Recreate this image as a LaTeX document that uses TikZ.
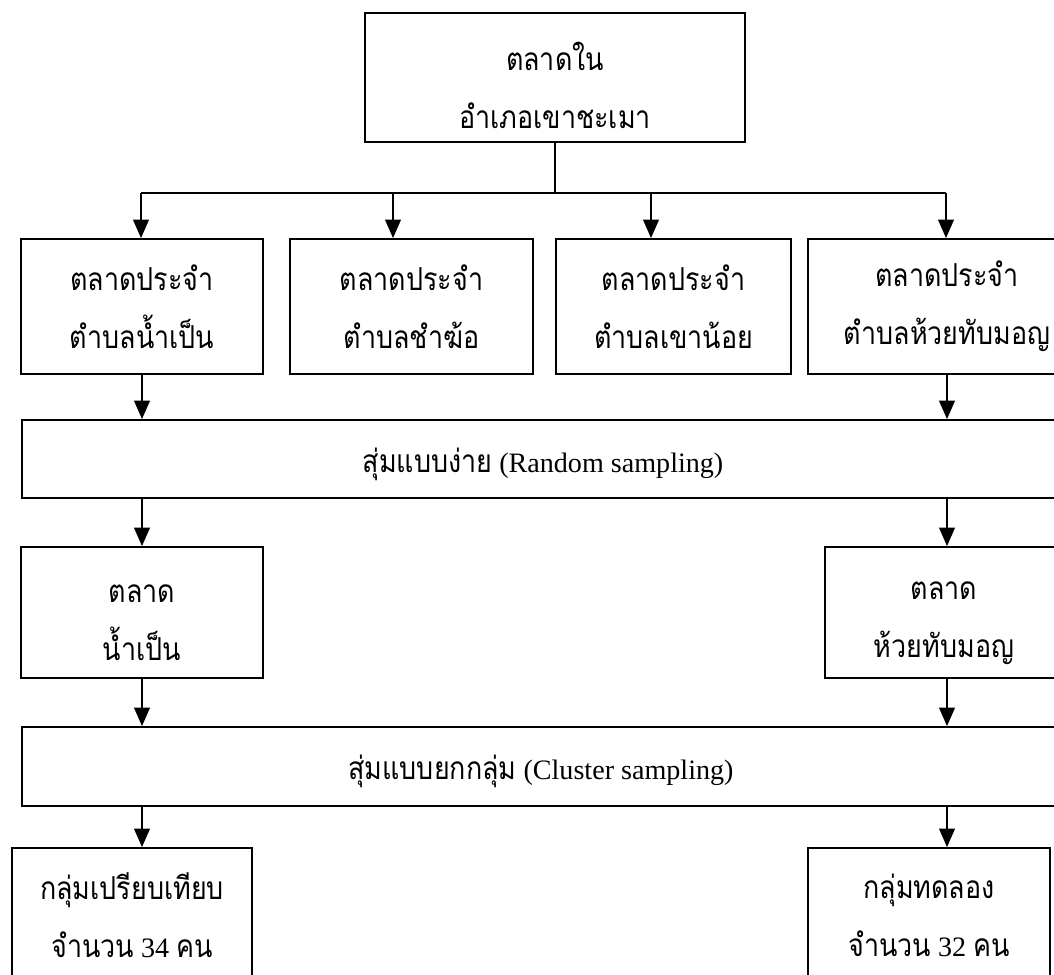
\documentclass[tikz,border=0pt]{standalone}
\usepackage{fontspec}
\newfontfamily\thaifont[Script=Thai, FakeStretch=0.85]{Loma}
\newfontfamily\latinfont{Liberation Serif}
\newcommand{\en}[1]{{\latinfont\fontsize{16}{33}\selectfont #1}}
\newcommand{\pad}[1]{\rule{0pt}{#1}}
\usetikzlibrary{arrows.meta}
\tikzset{
  box/.style   = {draw, line width=1.1pt, fill=white, align=center, inner sep=0pt,
                  font=\thaifont\fontsize{18}{33}\selectfont},
  arrow/.style = {-{Triangle[length=10.5pt, width=9pt]}, line width=0.9pt},
  stem/.style  = {line width=0.6pt},
}
\begin{document}
\begin{tikzpicture}[x=0.02cm, y=-0.02cm]
  \useasboundingbox (0,0) rectangle (1054,974);
  \clip (0,0) rectangle (1054,974);
  % district
  \node[box, minimum width=7.6cm, minimum height=2.58cm] (amphoe) at (555,77.5)
    {\pad{25pt}ตลาดใน\\อำเภอเขาชะเมา};
  % four tambon markets
  \foreach \n/\x/\w/\name in {1/142/4.83/น้ำเป็น, 2/411.5/4.86/ชำฆ้อ,
                              3/673.5/4.7/เขาน้อย, 4/947/5.56/ห้วยทับมอญ}
    \node[box, minimum width=\w cm, minimum height=2.7cm] (tambon\n) at (\x,306.5)
      {ตลาดประจำ\\ตำบล\name};
  \coordinate (bus) at (555,193);
  \draw[stem] (amphoe.south) -- (bus);
  \foreach \n/\x in {1/141, 2/393, 3/651, 4/946}
    \coordinate (drop\n) at (\x,193);
  \draw[line width=0.9pt] (drop1) -- (drop4);
  \foreach \n in {1,...,4}
    \draw[arrow] (drop\n) -- (drop\n |- tambon\n.north);
  % random sampling
  \node[box, minimum width=20.86cm, minimum height=1.56cm] (random) at (543,459)
    {\pad{19.5pt}สุ่มแบบง่าย\en{ (Random sampling)}};
  \draw[arrow] (tambon1.south) -- (tambon1.south |- random.north);
  \draw[arrow] (tambon4.south) -- (tambon4.south |- random.north);
  % chosen markets
  \node[box, minimum width=4.83cm, minimum height=2.62cm] (nampen) at (142,612.5)
    {\pad{22pt}ตลาด\\น้ำเป็น};
  \node[box, minimum width=4.76cm, minimum height=2.62cm] (huai) at (944,612.5)
    {\pad{22pt}ตลาด\\ห้วยทับมอญ};
  \draw[arrow] (random.south -| nampen) -- (nampen.north);
  \draw[arrow] (random.south -| tambon4) -- (tambon4 |- huai.north);
  % cluster sampling
  \node[box, minimum width=20.78cm, minimum height=1.58cm] (cluster) at (541,766.5)
    {\pad{19.5pt}สุ่มแบบยกกลุ่ม\en{ (Cluster sampling)}};
  \draw[arrow] (nampen.south) -- (nampen.south |- cluster.north);
  \draw[arrow] (huai.south -| tambon4) -- (tambon4 |- cluster.north);
  % groups
  \node[box, minimum width=4.8cm, minimum height=2.68cm] (control) at (132,915)
    {กลุ่มเปรียบเทียบ\\จำนวน\en{ 34 }คน};
  \node[box, minimum width=4.84cm, minimum height=2.68cm] (trial) at (929,915)
    {กลุ่มทดลอง\\จำนวน\en{ 32 }คน};
  \draw[arrow] (cluster.south -| nampen) -- (nampen |- control.north);
  \draw[arrow] (cluster.south -| tambon4) -- (tambon4 |- trial.north);
\end{tikzpicture}
\end{document}
